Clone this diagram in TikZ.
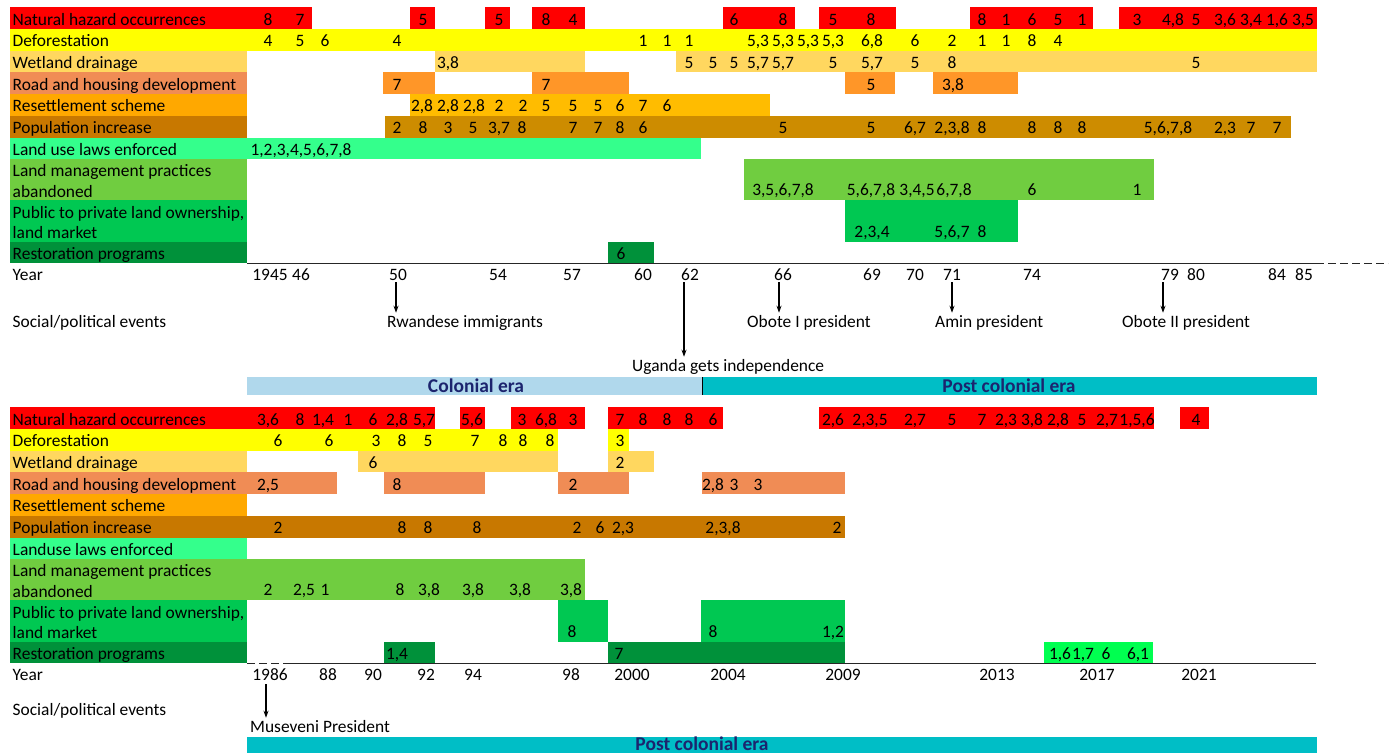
\documentclass[tikz,border=0pt]{standalone}
\usepackage{fontspec}
\setmainfont{Carlito}
\usetikzlibrary{arrows.meta}
\definecolor{haz}{RGB}{255,0,0}
\definecolor{defo}{RGB}{255,255,0}
\definecolor{wet}{RGB}{255,215,95}
\definecolor{roadL}{RGB}{240,140,85}
\definecolor{roadB}{RGB}{255,150,40}
\definecolor{resL}{RGB}{255,168,0}
\definecolor{resB}{RGB}{255,188,0}
\definecolor{popL}{RGB}{200,120,0}
\definecolor{popB}{RGB}{205,140,0}
\definecolor{law}{RGB}{52,255,140}
\definecolor{mgmt}{RGB}{112,205,64}
\definecolor{pub}{RGB}{0,200,82}
\definecolor{rest}{RGB}{0,145,58}
\definecolor{restB}{RGB}{0,255,80}
\definecolor{colon}{RGB}{176,216,236}
\definecolor{post}{RGB}{0,190,198}
\definecolor{navy}{RGB}{28,36,110}
\newcommand\fsz{\fontsize{17.4}{20}\selectfont}
\newcommand\rowvals[3]{\foreach \vx/\vt in {#3}{\node[val] (#1-\vx) at (\vx,#2) {\vt};}}
\begin{document}
\begin{tikzpicture}[x=1pt,y=-1pt,
  val/.style={anchor=base,inner sep=0pt,font=\fsz},
  lab/.style={anchor=base west,inner sep=0pt,font=\fsz},
  era/.style={anchor=base,inner sep=0pt,font=\fontsize{19.5}{22}\selectfont\bfseries,text=navy},
  axis/.style={line width=1.3pt,black!85},
  axisdash/.style={line width=1.3pt,black!85,dash pattern=on 8pt off 4pt},
  arr/.style={line width=1.1pt,-{Stealth[length=7pt,width=5pt]}}]
\useasboundingbox (0,0) rectangle (1391,753);
\fill[white] (0,0) rectangle (1391,753);

% ================= TOP CHART =================
\fill[haz] (10,7.3) rectangle (312,29);
\fill[haz] (410,7.3) rectangle (435,29);
\fill[haz] (485,7.3) rectangle (510,29);
\fill[haz] (532,7.3) rectangle (585,29);
\fill[haz] (723,7.3) rectangle (795,29);
\fill[haz] (819,7.3) rectangle (896,29);
\fill[haz] (970,7.3) rectangle (1093,29);
\fill[haz] (1119,7.3) rectangle (1317,29);
\fill[defo] (10,29) rectangle (1317,50.7);
\fill[wet] (10,50.7) rectangle (247,72.4);
\fill[wet] (435,50.7) rectangle (585,72.4);
\fill[wet] (676,50.7) rectangle (1317,72.4);
\fill[roadL] (10,72.4) rectangle (247,94.1);
\fill[roadB] (383,72.4) rectangle (435,94.1);
\fill[roadB] (532,72.4) rectangle (629,94.1);
\fill[roadB] (845,72.4) rectangle (895,94.1);
\fill[roadB] (933,72.4) rectangle (1018,94.1);
\fill[resL] (10,94.1) rectangle (247,115.8);
\fill[resB] (410,94.1) rectangle (770,115.8);
\fill[popL] (10,115.8) rectangle (247,137.5);
\fill[popB] (385,115.8) rectangle (1291,137.5);
\fill[law] (10,137.5) rectangle (701,159.2);
\fill[mgmt] (10,159.2) rectangle (247,200.4);
\fill[mgmt] (744,159.2) rectangle (1154,200.4);
\fill[pub] (10,200.4) rectangle (247,241.6);
\fill[pub] (845,200.4) rectangle (1018,241.6);
\fill[rest] (10,241.6) rectangle (247,263.3);
\fill[rest] (608,241.6) rectangle (654,263.3);

\node[lab] (tl1) at (12.5,25) {Natural hazard occurrences};
\node[lab] (tl2) at (12.5,46.7) {Deforestation};
\node[lab] (tl3) at (12.5,68.4) {Wetland drainage};
\node[lab] (tl4) at (12.5,90.1) {Road and housing development};
\node[lab] (tl5) at (12.5,111.8) {Resettlement scheme};
\node[lab] (tl6) at (12.5,133.5) {Population increase};
\node[lab] (tl7) at (12.5,155.2) {Land use laws enforced};
\node[lab] (tl8a) at (12.5,176.7) {Land management practices};
\node[lab] (tl8b) at (12.5,197.3) {abandoned};
\node[lab] (tl9a) at (12.5,218.3) {Public to private land ownership,};
\node[lab] (tl9b) at (12.5,238.5) {land market};
\node[lab] (tl10) at (12.5,259) {Restoration programs};

\rowvals{t1}{25}{268/8, 300/7, 423/5, 499/5, 546/8, 573/4, 734/6, 783/8, 833/5, 871/8, 982/8, 1006/1, 1032/6, 1058/5, 1082/1, 1137/3, 1173/{4,8}, 1196/5, 1225/{3,6}, 1251/{3,4}, 1277/{1,6}, 1303/{3,5}}
\rowvals{t2}{46.7}{268/4, 300/5, 325/6, 397/4, 643/1, 667/1, 689/1, 758/{5,3}, 783/{5,3}, 808/{5,3}, 833/{5,3}, 872/{6,8}, 915/6, 952/2, 982/1, 1006/1, 1032/8, 1058/4}
\rowvals{t3}{68.4}{448/{3,8}, 689/5, 713/5, 734/5, 758/{5,7}, 783/{5,7}, 833/5, 872/{5,7}, 915/5, 952/8, 1196/5}
\rowvals{t4}{90.1}{397/7, 546/7, 871/5, 953/{3,8}}
\rowvals{t5}{111.8}{422/{2,8}, 448/{2,8}, 474/{2,8}, 499/2, 523/2, 546/5, 573/5, 598/5, 620/6, 643/7, 667/6}
\rowvals{t6}{133.5}{397/2, 423/8, 448/3, 473/5, 499/{3,7}, 522/8, 573/7, 598/7, 620/8, 643/6, 783/5, 871/5, 915/{6,7}, 952/{2,3,8}, 982/8, 1032/8, 1058/8, 1082/8, 1168/{5,6,7,8}, 1225/{2,3}, 1251/7, 1277/7}
\rowvals{t7}{155.2}{301/{1,2,3,4,5,6,7,8}}
\rowvals{t8}{195.5}{783/{3,5,6,7,8}, 871/{5,6,7,8}, 917/{3,4,5}, 954/{6,7,8}, 1032/6, 1137/1}
\rowvals{t9}{237}{872/{2,3,4}, 952/{5,6,7}, 982/8}
\rowvals{t10}{259}{621/6}

% axis top
\coordinate (ta0) at (247,263.3);
\coordinate (ta1) at (1316,263.3);
\coordinate (ta2) at (1388,263.3);
\draw[axis] (ta0) -- (ta1);
\draw[axisdash] (ta1) -- (ta2);
\node[lab] (tyear) at (12.5,280) {Year};
\rowvals{ty}{280}{270/1945, 301/46, 398/50, 498/54, 572/57, 643/60, 690/62, 783/66, 872/69, 915/70, 952/71, 1032/74, 1170/79, 1196/80, 1277/84, 1304/85}

% events top
\node[lab] (tev) at (12.5,327) {Social/political events};
\node[lab] (rw) at (387,327) {Rwandese immigrants};
\node[lab] (ob1) at (747,327) {Obote I president};
\node[lab] (am) at (935,327) {Amin president};
\node[lab] (ob2) at (1122,327) {Obote II president};
\node[lab] (ug) at (632,371) {Uganda gets independence};
\coordinate (rw0) at (396,282);
\coordinate (ob10) at (779,282);
\coordinate (am0) at (952,282);
\coordinate (ob20) at (1163,282);
\coordinate (ug0) at (684,282);
\draw[arr] (rw0) -- ([yshift=2pt]rw0 |- rw.north);
\draw[arr] (ob10) -- ([yshift=2pt]ob10 |- ob1.north);
\draw[arr] (am0) -- ([yshift=2pt]am0 |- am.north);
\draw[arr] (ob20) -- ([yshift=2pt]ob20 |- ob2.north);
\draw[arr] (ug0) -- ([yshift=2pt]ug0 |- ug.north);

% era top
\fill[colon] (247,377) rectangle (702,395);
\fill[post] (702,377) rectangle (1317,395);
\draw[line width=0.8pt] (702,377) -- (702,395);
\node[era] (ce) at (476,392) {Colonial era};
\node[era] (pce) at (1009,392) {Post colonial era};

% ================= BOTTOM CHART =================
\fill[haz] (10,407.3) rectangle (435,429);
\fill[haz] (460,407.3) rectangle (485,429);
\fill[haz] (511,407.3) rectangle (585,429);
\fill[haz] (608,407.3) rectangle (723,429);
\fill[haz] (819,407.3) rectangle (1154,429);
\fill[haz] (1180,407.3) rectangle (1209,429);
\fill[defo] (10,429) rectangle (558,450.7);
\fill[defo] (608,429) rectangle (629,450.7);
\fill[wet] (10,450.7) rectangle (247,472.4);
\fill[wet] (358,450.7) rectangle (558,472.4);
\fill[wet] (608,450.7) rectangle (654,472.4);
\fill[roadL] (10,472.4) rectangle (337,494.1);
\fill[roadL] (384,472.4) rectangle (485,494.1);
\fill[roadL] (558,472.4) rectangle (629,494.1);
\fill[roadL] (702,472.4) rectangle (845,494.1);
\fill[resL] (10,494.1) rectangle (247,515.8);
\fill[popL] (10,515.8) rectangle (845,537.5);
\fill[law] (10,537.5) rectangle (247,559.2);
\fill[mgmt] (10,559.2) rectangle (585,600.4);
\fill[pub] (10,600.4) rectangle (247,641.6);
\fill[pub] (558,600.4) rectangle (608,641.6);
\fill[pub] (701,600.4) rectangle (845,641.6);
\fill[rest] (10,641.6) rectangle (247,663.3);
\fill[rest] (384,641.6) rectangle (435,663.3);
\fill[rest] (608,641.6) rectangle (845,663.3);
\fill[restB] (1044,641.6) rectangle (1153,663.3);

\node[lab] (bl1) at (12.5,425) {Natural hazard occurrences};
\node[lab] (bl2) at (12.5,446.7) {Deforestation};
\node[lab] (bl3) at (12.5,468.4) {Wetland drainage};
\node[lab] (bl4) at (12.5,490.1) {Road and housing development};
\node[lab] (bl5) at (12.5,511.8) {Resettlement scheme};
\node[lab] (bl6) at (12.5,533.5) {Population increase};
\node[lab] (bl7) at (12.5,555.2) {Landuse laws enforced};
\node[lab] (bl8a) at (12.5,576.7) {Land management practices};
\node[lab] (bl8b) at (12.5,597.3) {abandoned};
\node[lab] (bl9a) at (12.5,618.3) {Public to private land ownership,};
\node[lab] (bl9b) at (12.5,638.5) {land market};
\node[lab] (bl10) at (12.5,659) {Restoration programs};

\rowvals{b1}{425}{268/{3,6}, 300/8, 323/{1,4}, 348/1, 373/6, 397/{2,8}, 424/{5,7}, 472/{5,6}, 522/3, 546/{6,8}, 573/3, 620/7, 643/8, 667/8, 689/8, 713/6, 833/{2,6}, 870/{2,3,5}, 915/{2,7}, 952/5, 982/7, 1006/{2,3}, 1032/{3,8}, 1058/{2,8}, 1082/5, 1107/{2,7}, 1137/{1,5,6}, 1196/4}
\rowvals{b2}{446.7}{278/6, 329/6, 376/3, 402/8, 428/5, 475/7, 503/8, 523/8, 550/8, 620/3}
\rowvals{b3}{468.4}{373/6, 620/2}
\rowvals{b4}{490.1}{268/{2,5}, 397/8, 573/2, 713/{2,8}, 734/3, 758/3}
\rowvals{b6}{533.5}{278/2, 402/8, 428/8, 477/8, 577/2, 600/6, 623/{2,3}, 723/{2,3,8}, 837/2}
\rowvals{b8}{595.5}{268/2, 304/{2,5}, 325/1, 400/8, 429/{3,8}, 473/{3,8}, 520/{3,8}, 571/{3,8}}
\rowvals{b9}{637}{572/8, 713/8, 833/{1,2}}
\rowvals{b10}{659}{397/{1,4}, 619/7, 1060/{1,6}, 1083/{1,7}, 1106/6, 1138/{6,1}}

% axis bottom
\coordinate (ba0) at (247,663.3);
\coordinate (ba1) at (287,663.3);
\coordinate (ba2) at (1316,663.3);
\draw[axisdash] (ba0) -- (ba1);
\draw[axis] (ba1) -- (ba2);
\node[lab] (byear) at (12.5,680) {Year};
\rowvals{by}{680}{270/1986, 328/88, 373/90, 426/92, 473/94, 571/98, 632/2000, 728/2004, 843/2009, 997/2013, 1097/2017, 1199/2021}

% events bottom
\node[lab] (bev) at (12.5,715) {Social/political events};
\node[lab] (mu) at (250,732) {Museveni President};
\coordinate (mu0) at (266,684);
\draw[arr] (mu0) -- ([yshift=2pt]mu0 |- mu.north);

% era bottom
\fill[post] (247,737) rectangle (1317,753);
\node[era] (pcb) at (702,750) {Post colonial era};
\end{tikzpicture}
\end{document}
